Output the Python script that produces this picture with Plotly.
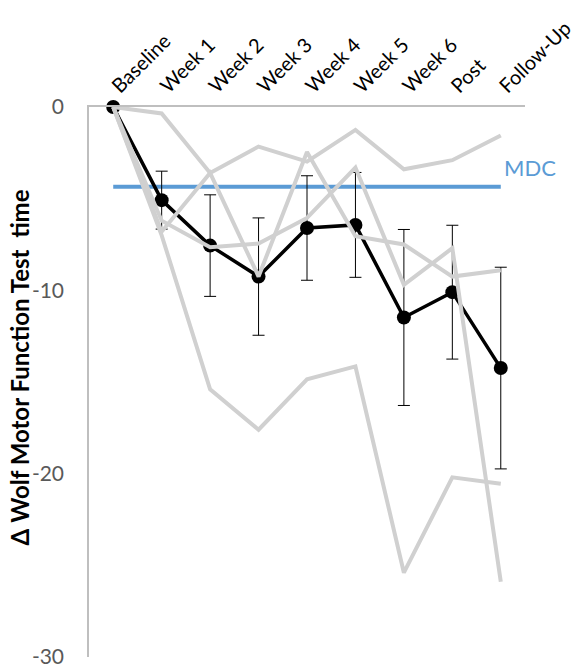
import plotly.graph_objects as go

# Assessment time points
timepoints = ["Baseline", "Week 1", "Week 2", "Week 3", "Week 4",
              "Week 5", "Week 6", "Post", "Follow-Up"]

# Change in Wolf Motor Function Test time for each participant
participant_1 = [0, -0.35, -3.6, -2.16, -2.98, -1.25, -3.4, -2.9, -1.55]
participant_2 = [0, -6.8, -3.6, -9.25, -2.45, -7.05, -7.5, -9.25, -8.9]
participant_3 = [0, -6.2, -7.65, -7.45, -6.05, -3.3, -9.7, -7.7, -25.9]
participant_4 = [0, -7.0, -15.4, -17.6, -14.85, -14.15, -25.4, -20.2, -20.55]

# Group mean and standard error
group_mean = [0, -5.08, -7.56, -9.25, -6.6, -6.43, -11.48, -10.1, -14.24]
group_se = [0, 1.58, 2.77, 3.2, 2.85, 2.86, 4.8, 3.65, 5.5]

# Minimal detectable change threshold
mdc_value = -4.35

# Y axis ticks
y_ticks = [0, -10, -20, -30]
y_tick_text = ["0", "-10", "-20", "-30"]

FONT = "Lato"
GRAY = "#D0D0D0"
BLUE = "#5B9BD5"

fig = go.Figure()

# MDC reference line
fig.add_trace(go.Scatter(
    x=timepoints, y=[mdc_value] * len(timepoints),
    mode="lines", line=dict(color=BLUE, width=4),
    hoverinfo="skip", showlegend=False, cliponaxis=False,
))

# Group mean with error bars
fig.add_trace(go.Scatter(
    x=timepoints, y=group_mean,
    mode="lines+markers",
    line=dict(color="black", width=3.5),
    marker=dict(color="black", size=14),
    error_y=dict(type="data", array=group_se, visible=True,
                 color="black", thickness=1, width=6),
    showlegend=False, cliponaxis=False,
))

# Individual participant trajectories
for series in (participant_1, participant_2, participant_3, participant_4):
    fig.add_trace(go.Scatter(
        x=timepoints, y=series, mode="lines",
        line=dict(color=GRAY, width=4),
        showlegend=False, cliponaxis=False,
    ))

fig.add_annotation(
    x="Follow-Up", y=mdc_value, xref="x", yref="y",
    text="MDC", showarrow=False, xanchor="left", yanchor="middle",
    xshift=1, yshift=19,
    font=dict(family=FONT, size=22, color=BLUE),
)

fig.add_annotation(
    x=-0.16, y=0.527, xref="paper", yref="paper",
    text="<b>Δ Wolf Motor Function Test  time</b>", textangle=-90,
    showarrow=False, xanchor="center", yanchor="middle",
    font=dict(family=FONT, size=24, color="black"),
)

fig.update_xaxes(
    type="category", side="top", tickangle=-45,
    range=[-0.5, len(timepoints) - 0.5],
    showline=True, linecolor="#BFBFBF", linewidth=1.5,
    showgrid=False, zeroline=False, ticks="",
    tickfont=dict(family=FONT, size=20, color="black"),
    automargin=False,
)
fig.update_yaxes(
    range=[-30, 0], tickvals=y_ticks, ticktext=y_tick_text,
    showline=True, linecolor="#BFBFBF", linewidth=1.5,
    showgrid=False, zeroline=False, ticks="",
    ticklabelstandoff=19,
    tickfont=dict(family=FONT, size=21, color="#595959"),
    automargin=False,
)

fig.update_layout(
    width=577, height=671,
    margin=dict(l=89, r=52, t=107, b=14),
    paper_bgcolor="white", plot_bgcolor="white",
    font=dict(family=FONT),
)

fig.write_html("out.html")
